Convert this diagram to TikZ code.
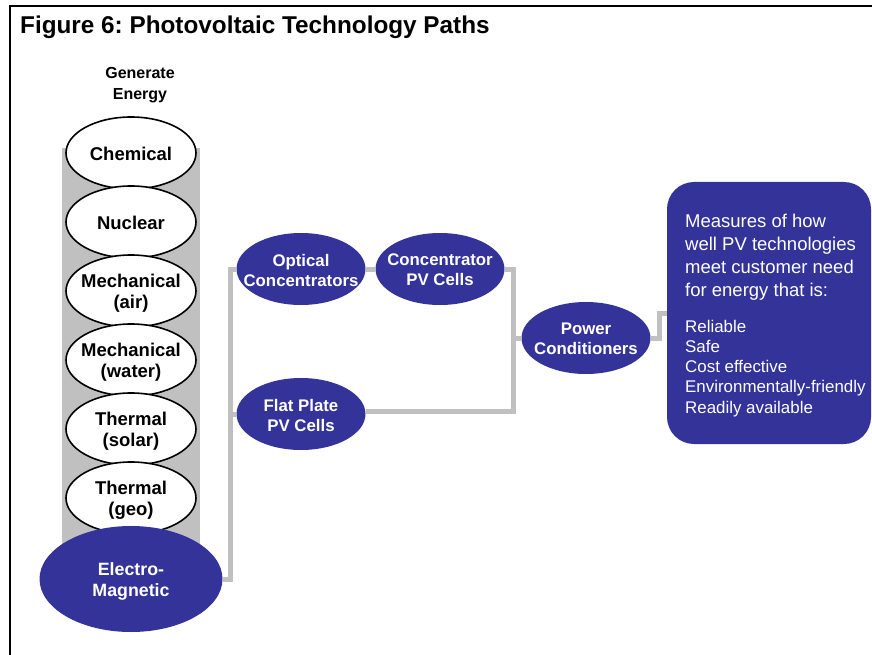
\documentclass[tikz,border=0pt]{standalone}
\usepackage{fontspec}
\setmainfont{Liberation Sans}
\usetikzlibrary{shapes.geometric,calc}
\definecolor{pvblue}{RGB}{51,51,153}
\definecolor{pvgray}{RGB}{192,192,192}
\frenchspacing

\begin{document}
\begin{tikzpicture}[x=1pt,y=-1pt,
  src/.style={ellipse, draw=black, line width=1.6pt, fill=white,
    minimum width=130pt, minimum height=72pt, inner sep=0pt},
  srclbl/.style={font=\fontsize{18.5}{21}\selectfont\bfseries, align=center, text=black, inner sep=0pt},
  tech/.style={ellipse, fill=pvblue, minimum width=129pt, minimum height=72pt, inner sep=0pt},
  techlbl/.style={font=\fontsize{16.8}{20}\selectfont\bfseries, align=center, text=white, inner sep=0pt},
  conn/.style={draw=pvgray, line width=5pt},
]
\useasboundingbox (0,0) rectangle (872,655);

% outer frame, open to the right and bottom
\draw[line width=2pt] (10,655) -- (10,6) -- (872,6);

% title
\node[anchor=base west, inner sep=0pt, font=\fontsize{24.3}{28}\selectfont\bfseries] (title) at (20,34)
  {Figure 6: Photovoltaic Technology Paths};

% column heading
\node[align=center, inner sep=0pt, font=\fontsize{16}{20.5}\selectfont\bfseries] (gen) at (140,85)
  {Generate\\Energy};

% grey backing column for the energy sources
\fill[pvgray] (62,148) rectangle (200,560);

% energy sources
\node[src, label={[srclbl, yshift=-1pt]center:Chemical}] (chem) at (131,153) {};
\node[src, label={[srclbl, yshift=-1pt]center:Nuclear}] (nuc) at (131,222) {};
\node[src, label={[srclbl, yshift=-2pt]center:Mechanical\\(air)}] (mair) at (131,291) {};
\node[src, label={[srclbl, yshift=-2pt]center:Mechanical\\(water)}] (mwat) at (131,360) {};
\node[src, label={[srclbl, yshift=-2pt]center:Thermal\\(solar)}] (tsol) at (131,429) {};
\node[src, label={[srclbl, yshift=-2pt]center:Thermal\\(geo)}] (tgeo) at (131,498) {};

% PV path
\node[tech, minimum width=183pt, minimum height=106pt,
  label={[techlbl, yshift=-2pt, font=\fontsize{17.8}{21}\selectfont\bfseries]center:Electro-\\Magnetic}] (em) at (131,579) {};
\node[tech, label={[techlbl, yshift=-1pt]center:Optical\\Concentrators}] (opt) at (301,269) {};
\node[tech, label={[techlbl, yshift=-1pt]center:Concentrator\\PV Cells}] (conc) at (440,269) {};
\node[tech, label={[techlbl, yshift=-1pt]center:Flat Plate\\PV Cells}] (flat) at (301,414) {};
\node[tech, label={[techlbl, yshift=-1pt]center:Power\\Conditioners}] (pc) at (586,338) {};

% customer measures
\node[fill=pvblue, rounded corners=27pt, minimum width=204pt, minimum height=262pt, inner sep=0pt] (box) at (769,313) {};
\node[anchor=base west, align=left, inner sep=0pt, text=white, font=\fontsize{18.5}{23}\selectfont] (intro) at (685,296)
  {Measures of how\\well PV technologies\\meet customer need\\for energy that is:};
\node[anchor=base west, align=left, inner sep=0pt, text=white, font=\fontsize{16.9}{20.2}\selectfont] (crit) at (685,413)
  {Reliable\\Safe\\Cost effective\\Environmentally-friendly\\Readily available};

% connectors
\draw[conn] (em.east) -- ++(8,0) coordinate (jl) |- (opt.west);
\draw[conn] (jl |- flat.west) -- (flat.west);
\draw[conn] (opt.east) -- (conc.west);
\coordinate (jr) at (513,338);
\draw[conn] (conc.east) -| (jr);
\draw[conn] ([yshift=3pt]flat.east) -| (jr);
\draw[conn] (jr) -- (pc.west);
\draw[conn] (pc.east) -- ++(9,0) |- (box.west);
\end{tikzpicture}
\end{document}
